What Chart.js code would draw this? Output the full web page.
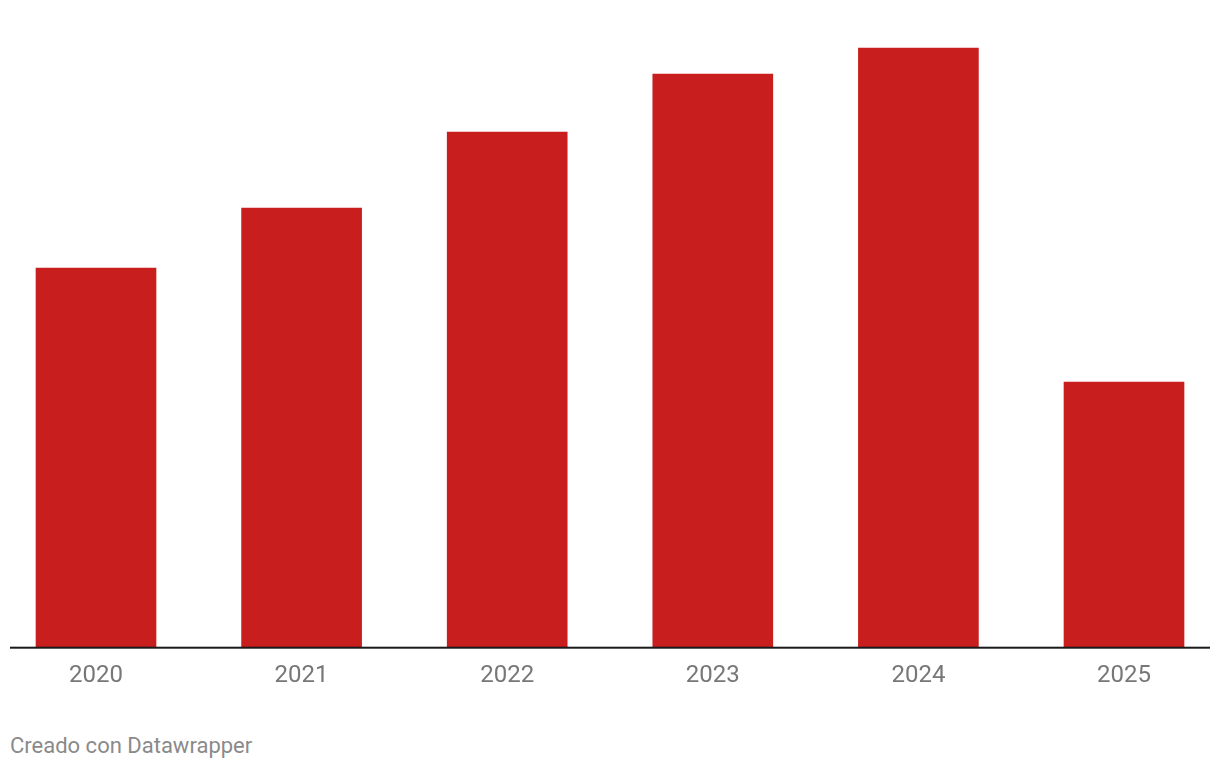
<!DOCTYPE html>
<html>
<head>
<meta charset="utf-8">
<script src="https://cdn.jsdelivr.net/npm/chart.js@4"></script>
<style>
  html, body { margin: 0; padding: 0; background: #fff; }
  #wrap { position: relative; width: 1220px; height: 770px; }
  #footer {
    position: absolute; left: 10px; top: 733px;
    font-family: Roboto, sans-serif; font-size: 22px; color: #8a8a8a;
  }
</style>
</head>
<body>
<div id="wrap">
  <canvas id="barChart" width="1220" height="704"></canvas>
  <div id="footer">Creado con Datawrapper</div>
</div>
<script>
// ===== Daten =====
const years = ['2020', '2021', '2022', '2023', '2024', '2025'];
const values = [379, 439, 515, 573, 599, 265];
const barColor = '#c91e1e';

// Grundlinie über die ganze Breite
const baseline = {
  id: 'baseline',
  afterDatasetsDraw(chart) {
    const { ctx, chartArea } = chart;
    ctx.save();
    ctx.fillStyle = '#1a1a1a';
    ctx.fillRect(10, chartArea.bottom - 0.5, 1200, 2);
    ctx.restore();
  }
};

const chart = new Chart(document.getElementById('barChart'), {
  type: 'bar',
  data: {
    labels: years,
    datasets: [{
      data: values,
      backgroundColor: barColor,
      barThickness: 120,
      clip: false
    }]
  },
  options: {
    responsive: false,
    animation: false,
    layout: { padding: { left: 96, right: 96, top: 0, bottom: 0 } },
    plugins: {
      legend: { display: false },
      tooltip: { enabled: false }
    },
    scales: {
      x: {
        offset: false,
        grid: { display: false, drawTicks: false },
        border: { display: false },
        ticks: {
          color: '#777777',
          padding: 14,
          maxRotation: 0,
          font: { family: 'Roboto', size: 24 }
        }
      },
      y: {
        display: false,
        min: 0,
        max: 647
      }
    }
  },
  plugins: [baseline]
});
</script>
</body>
</html>
